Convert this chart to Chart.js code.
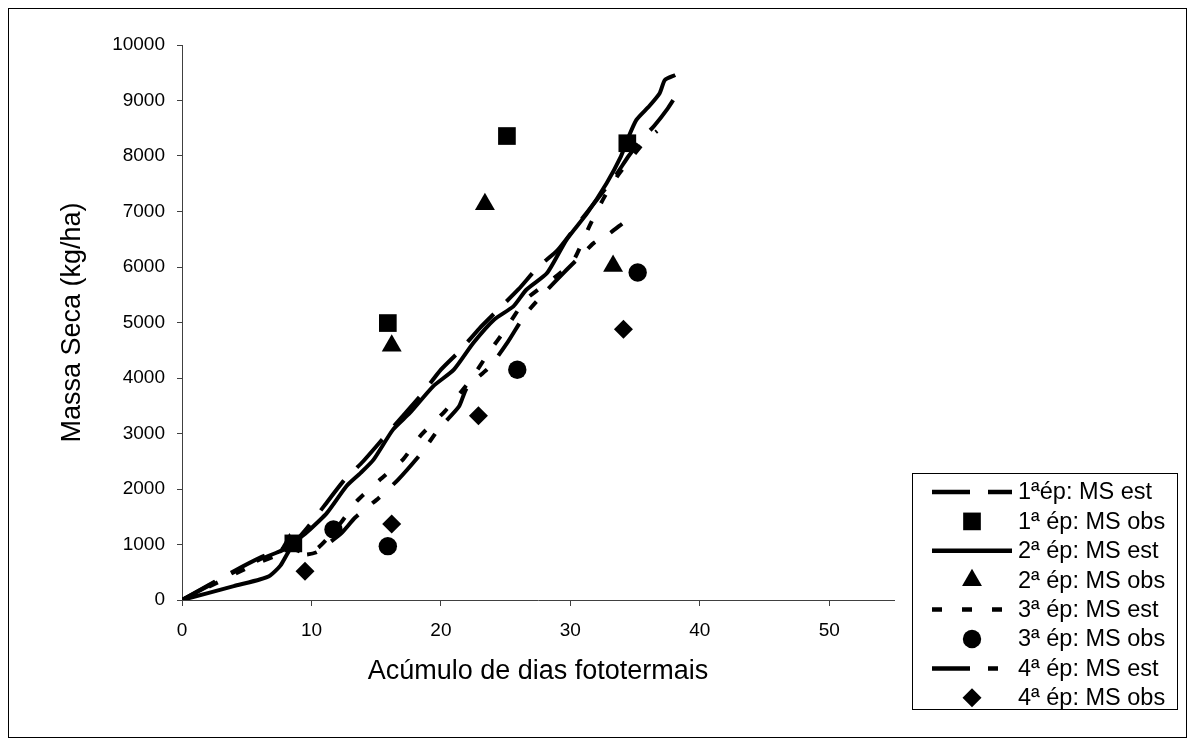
<!DOCTYPE html>
<html lang="pt">
<head>
<meta charset="UTF-8">
<title>Massa Seca - Acúmulo de dias fototermais</title>
<style>
  body { margin: 0; background: #fff; }
  canvas { display: block; }
</style>
</head>
<body>
<canvas id="msChart" width="1195" height="746"></canvas>
<script src="https://cdn.jsdelivr.net/npm/chart.js"></script>
<script>
// MS estimada por época (x = dias fototermais acumulados, y = kg/ha)
const ep1EstX = [0, 2, 4, 6, 7.5, 8.5, 9.5, 11, 12.5, 14, 15.5, 17, 18.5, 20, 21.5, 23, 24.5, 26, 27.5, 29, 30.5, 32, 33.5, 34.5, 35.5, 36.5, 37.5, 38.2];
const ep1EstY = [0, 260, 520, 760, 900, 1000, 1250, 1700, 2150, 2500, 2900, 3300, 3700, 4150, 4500, 4900, 5250, 5600, 6000, 6300, 6750, 7200, 7650, 8000, 8300, 8550, 8850, 9100];

const ep2EstX = [0, 2, 4, 6, 6.8, 7.6, 8.3, 8.9, 9.6, 11.2, 12.7, 13.8, 14.8, 16.3, 17.6, 19.4, 21.0, 22.5, 24.1, 25.6, 26.6, 28.2, 29.7, 31.3, 32.8, 33.9, 34.4, 35.1, 36.1, 36.9, 37.3, 38.1];
const ep2EstY = [0, 125, 250, 370, 440, 620, 900, 1080, 1210, 1570, 2050, 2290, 2530, 3070, 3370, 3850, 4150, 4630, 5050, 5290, 5590, 5890, 6490, 6970, 7510, 7990, 8290, 8650, 8900, 9130, 9370, 9460];

const ep3EstX = [0, 2, 4, 6, 7.5, 8.5, 9.4, 10.4, 11.2, 12.3, 13.5, 15.3, 17.1, 18.5, 20.3, 22.3, 23.7, 25.0, 26.5, 28.0, 29.0, 30.2, 31.5, 32.6, 33.7, 34.7, 35.7, 36.7];
const ep3EstY = [0, 230, 460, 680, 820, 930, 850, 920, 1100, 1400, 1780, 2170, 2540, 2980, 3400, 3970, 4460, 4880, 5400, 5680, 5850, 6100, 6750, 7250, 7660, 7960, 8250, 8450];

const ep4EstX = [0, 2, 4, 6, 7.5, 8.5, 9.4, 10.4, 11.2, 12.3, 13.4, 15.2, 16.7, 18.5, 19.8, 21.4, 22.0, 23.8, 25.2, 26.5, 28.1, 29.5, 30.8, 31.8, 33.0, 34.0];
const ep4EstY = [0, 250, 500, 730, 870, 960, 820, 860, 1000, 1200, 1490, 1840, 2170, 2650, 3070, 3490, 3820, 4210, 4660, 5140, 5560, 5900, 6200, 6430, 6600, 6780];

// MS observada
const ep1ObsX = [8.6, 15.9, 25.1, 34.4];
const ep1ObsY = [1020, 4990, 8360, 8230];
const ep2ObsX = [8.3, 16.2, 23.4, 33.3];
const ep2ObsY = [1000, 4580, 7130, 6020];
const ep3ObsX = [11.7, 15.9, 25.9, 35.2];
const ep3ObsY = [1270, 970, 4150, 5900];
const ep4ObsX = [9.5, 16.2, 22.9, 34.1];
const ep4ObsY = [520, 1370, 3320, 4880];

const seriesLabels = [
  '1ªép: MS est', '1ª ép: MS obs',
  '2ª ép: MS est', '2ª ép: MS obs',
  '3ª ép: MS est', '3ª ép: MS obs',
  '4ª ép: MS est', '4ª ép: MS obs'
];

const xMax = 55, xStep = 10;
const yMax = 10000, yStep = 1000;

const FONT = '"Liberation Sans", Arial, sans-serif';
const AXIS_COLOR = '#404040';

function pairs(xs, ys) {
  return xs.map((x, i) => ({ x: x, y: ys[i] }));
}

function estSeries(label, xs, ys, dash) {
  return {
    label: label,
    data: pairs(xs, ys),
    showLine: true,
    borderColor: '#000',
    backgroundColor: '#000',
    borderWidth: 4,
    borderDash: dash,
    borderCapStyle: 'butt',
    borderJoinStyle: 'round',
    tension: 0.2,
    pointRadius: 0,
    pointHoverRadius: 0
  };
}

function obsSeries(label, xs, ys, style, radius) {
  return {
    label: label,
    data: pairs(xs, ys),
    showLine: false,
    pointStyle: style,
    pointRadius: radius,
    pointHoverRadius: radius,
    backgroundColor: '#000',
    borderColor: '#000',
    borderWidth: 0
  };
}

// fundo branco e moldura da área do gráfico
const chartFrame = {
  id: 'chartFrame',
  beforeDraw(chart) {
    const ctx = chart.ctx;
    ctx.save();
    ctx.fillStyle = '#fff';
    ctx.fillRect(0, 0, chart.width, chart.height);
    ctx.strokeStyle = '#000';
    ctx.lineWidth = 1;
    ctx.strokeRect(8.5, 8.5, 1178, 729);
    ctx.restore();
  }
};

// legenda com caixa, no canto inferior direito
const boxedLegend = {
  id: 'boxedLegend',
  afterDraw(chart) {
    const ctx = chart.ctx;
    const left = 912, top = 473, width = 265, height = 236;
    const rowH = 29.4;
    ctx.save();
    ctx.fillStyle = '#fff';
    ctx.fillRect(left, top, width, height);
    ctx.strokeStyle = '#000';
    ctx.lineWidth = 1;
    ctx.strokeRect(left + 0.5, top + 0.5, width, height);
    ctx.font = '23.5px ' + FONT;
    ctx.textBaseline = 'middle';
    ctx.textAlign = 'left';
    chart.data.datasets.forEach((ds, i) => {
      const y = top + 19 + i * rowH;
      if (ds.showLine) {
        ctx.save();
        ctx.strokeStyle = ds.borderColor;
        ctx.lineWidth = ds.borderWidth + 0.5;
        ctx.lineCap = 'butt';
        ctx.setLineDash(ds.borderDash || []);
        ctx.beginPath();
        ctx.moveTo(932, y);
        ctx.lineTo(1012, y);
        ctx.stroke();
        ctx.restore();
      } else {
        ctx.fillStyle = '#000';
        Chart.helpers.drawPoint(ctx, { pointStyle: ds.pointStyle, radius: ds.pointRadius, borderWidth: 0 }, 972, y);
      }
      ctx.fillStyle = '#000';
      ctx.fillText(ds.label, 1018, y + 1);
    });
    ctx.restore();
  }
};

const datasets = [
  estSeries(seriesLabels[0], ep1EstX, ep1EstY, [38, 18]),
  obsSeries(seriesLabels[1], ep1ObsX, ep1ObsY, 'rect', 12.5),
  estSeries(seriesLabels[2], ep2EstX, ep2EstY, []),
  obsSeries(seriesLabels[3], ep2ObsX, ep2ObsY, 'triangle', 11.5),
  estSeries(seriesLabels[4], ep3EstX, ep3EstY, [10, 20]),
  obsSeries(seriesLabels[5], ep3ObsX, ep3ObsY, 'circle', 9.2),
  estSeries(seriesLabels[6], ep4EstX, ep4EstY, [38, 18, 10, 18]),
  obsSeries(seriesLabels[7], ep4ObsX, ep4ObsY, 'rectRot', 9.5)
];

new Chart(document.getElementById('msChart'), {
  type: 'scatter',
  data: { datasets: datasets },
  plugins: [chartFrame, boxedLegend],
  options: {
    responsive: false,
    animation: false,
    layout: { padding: { left: 0, top: 45, right: 301, bottom: 0 } },
    plugins: {
      legend: { display: false },
      tooltip: { enabled: false }
    },
    scales: {
      x: {
        type: 'linear',
        min: 0,
        max: xMax,
        ticks: {
          stepSize: xStep,
          includeBounds: false,
          color: '#000',
          font: { family: FONT, size: 19 },
          padding: 13,
          maxRotation: 0,
          callback: v => String(v)
        },
        grid: { drawOnChartArea: false, drawTicks: true, tickLength: 6, color: AXIS_COLOR },
        border: { display: true, color: AXIS_COLOR, width: 1 },
        title: {
          display: true,
          text: 'Acúmulo de dias fototermais',
          color: '#000',
          font: { family: FONT, size: 27 },
          padding: { top: 0, bottom: 58 }
        },
        afterFit(scale) { scale.height = 146; }
      },
      y: {
        type: 'linear',
        min: 0,
        max: yMax,
        ticks: {
          stepSize: yStep,
          color: '#000',
          font: { family: FONT, size: 19 },
          padding: 12,
          callback: v => String(v)
        },
        grid: { drawOnChartArea: false, drawTicks: true, tickLength: 5, color: AXIS_COLOR },
        border: { display: true, color: AXIS_COLOR, width: 1 },
        title: {
          display: true,
          text: 'Massa Seca (kg/ha)',
          color: '#000',
          font: { family: FONT, size: 27 },
          padding: { top: 56, bottom: 0 }
        },
        afterFit(scale) { scale.width = 182; }
      }
    }
  }
});
</script>
</body>
</html>
